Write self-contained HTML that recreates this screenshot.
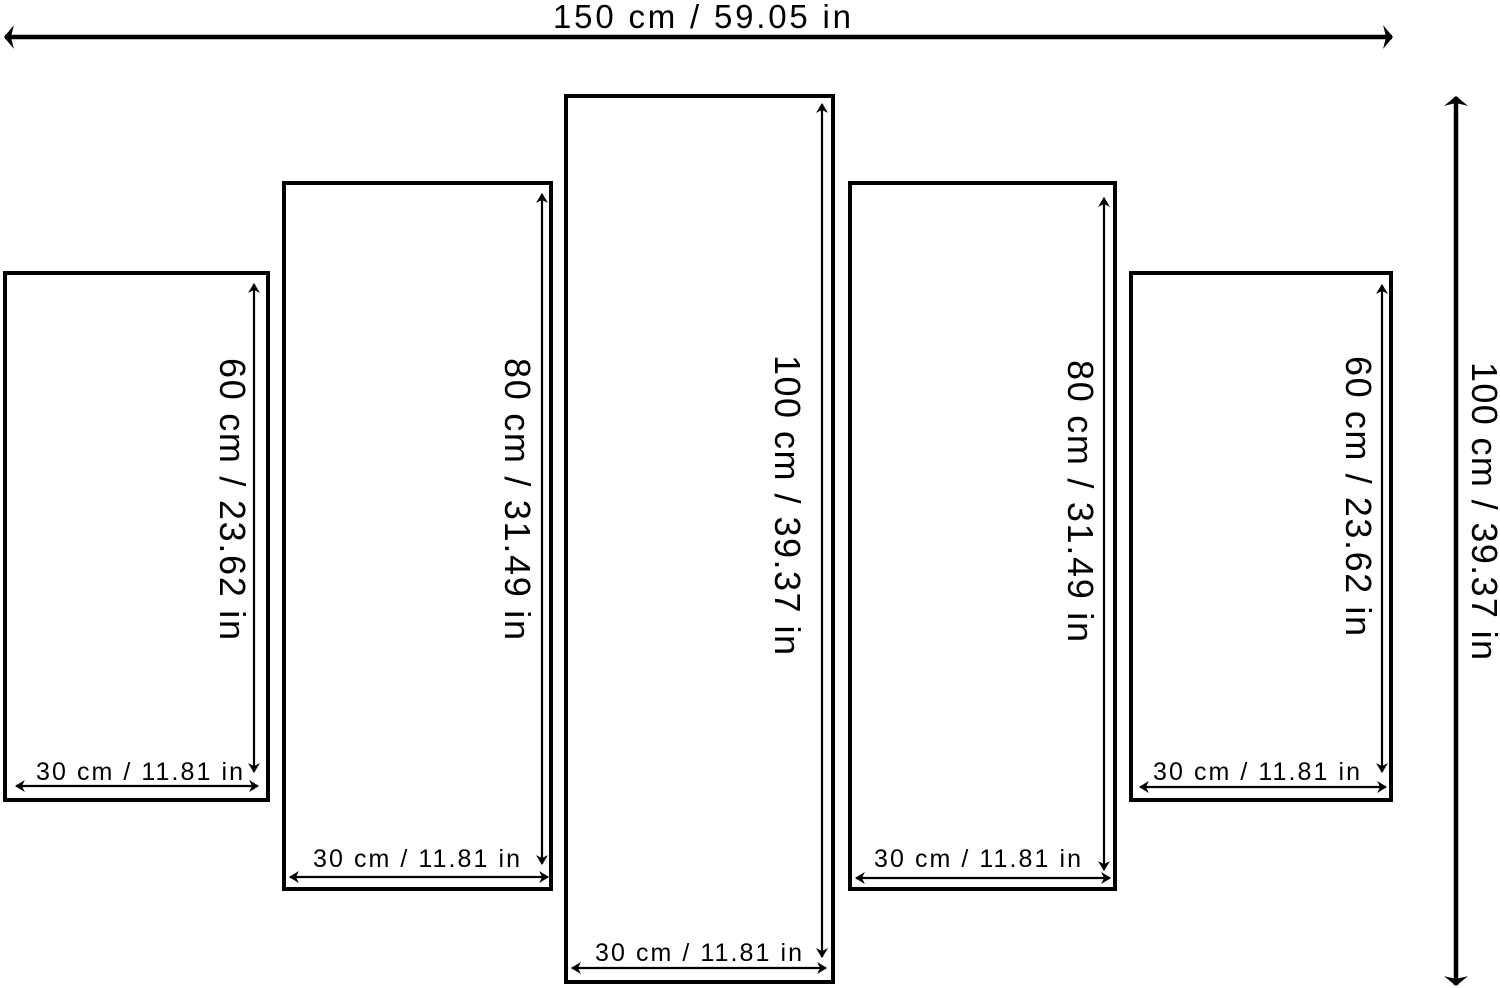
<!DOCTYPE html>
<html><head><meta charset="utf-8"><style>
html,body{margin:0;padding:0;background:#fff;}
svg{display:block;}
text{font-family:"Liberation Sans",Arial,sans-serif;fill:#000;}
</style></head><body>
<svg width="1500" height="988" viewBox="0 0 1500 988" xmlns="http://www.w3.org/2000/svg">
<defs>
<marker id="big" viewBox="0 0 10 10" refX="9" refY="5" markerWidth="2.2" markerHeight="5.3" orient="auto-start-reverse" markerUnits="strokeWidth" preserveAspectRatio="none">
<path d="M0,0 L10,5 L0,10 L3,5 Z" fill="#000"/></marker>
<marker id="sm" viewBox="0 0 10 10" refX="9" refY="5" markerWidth="4.5" markerHeight="5.5" orient="auto-start-reverse" markerUnits="strokeWidth" preserveAspectRatio="none">
<path d="M0,0 L10,5 L0,10 L3,5 Z" fill="#000"/></marker>
</defs>
<g fill="none" stroke="#000" stroke-width="4">
<rect x="5" y="273" width="263" height="527"/>
<rect x="284" y="183" width="267" height="706"/>
<rect x="566" y="96" width="267" height="886"/>
<rect x="850" y="183" width="265" height="706"/>
<rect x="1131" y="273" width="260" height="527"/>
</g>
<g stroke="#000" stroke-width="4.5">
<line x1="5" y1="37" x2="1392" y2="37" marker-start="url(#big)" marker-end="url(#big)"/>
<line x1="1456" y1="97" x2="1456" y2="985" marker-start="url(#big)" marker-end="url(#big)"/>
</g>
<g stroke="#000" stroke-width="2.2">
<line x1="254" y1="284" x2="254" y2="772" marker-start="url(#sm)" marker-end="url(#sm)"/>
<line x1="542" y1="194" x2="542" y2="864" marker-start="url(#sm)" marker-end="url(#sm)"/>
<line x1="822" y1="104" x2="822" y2="957" marker-start="url(#sm)" marker-end="url(#sm)"/>
<line x1="1104" y1="198" x2="1104" y2="870" marker-start="url(#sm)" marker-end="url(#sm)"/>
<line x1="1382" y1="285" x2="1382" y2="772" marker-start="url(#sm)" marker-end="url(#sm)"/>
<line x1="16" y1="786" x2="258" y2="786" marker-start="url(#sm)" marker-end="url(#sm)"/>
<line x1="290" y1="877" x2="548" y2="877" marker-start="url(#sm)" marker-end="url(#sm)"/>
<line x1="572" y1="968" x2="826" y2="968" marker-start="url(#sm)" marker-end="url(#sm)"/>
<line x1="856" y1="878" x2="1110" y2="878" marker-start="url(#sm)" marker-end="url(#sm)"/>
<line x1="1140" y1="787" x2="1386" y2="787" marker-start="url(#sm)" marker-end="url(#sm)"/>
</g>
<text x="553" y="28" font-size="33" textLength="298" lengthAdjust="spacing">150 cm / 59.05 in</text>
<g font-size="25" lengthAdjust="spacing">
<text x="36" y="780" textLength="207">30 cm / 11.81 in</text>
<text x="313" y="867" textLength="207">30 cm / 11.81 in</text>
<text x="595" y="961" textLength="207">30 cm / 11.81 in</text>
<text x="874" y="867" textLength="207">30 cm / 11.81 in</text>
<text x="1153" y="780" textLength="207">30 cm / 11.81 in</text>
</g>
<g font-size="36" lengthAdjust="spacing">
<text transform="translate(220,358) rotate(90)" textLength="282">60 cm / 23.62 in</text>
<text transform="translate(505,358) rotate(90)" textLength="282">80 cm / 31.49 in</text>
<text transform="translate(775,355) rotate(90)" textLength="300">100 cm / 39.37 in</text>
<text transform="translate(1068,360) rotate(90)" textLength="282">80 cm / 31.49 in</text>
<text transform="translate(1346,356) rotate(90)" textLength="280">60 cm / 23.62 in</text>
<text transform="translate(1472,362) rotate(90)" textLength="298">100 cm / 39.37 in</text>
</g>
</svg>
</body></html>
